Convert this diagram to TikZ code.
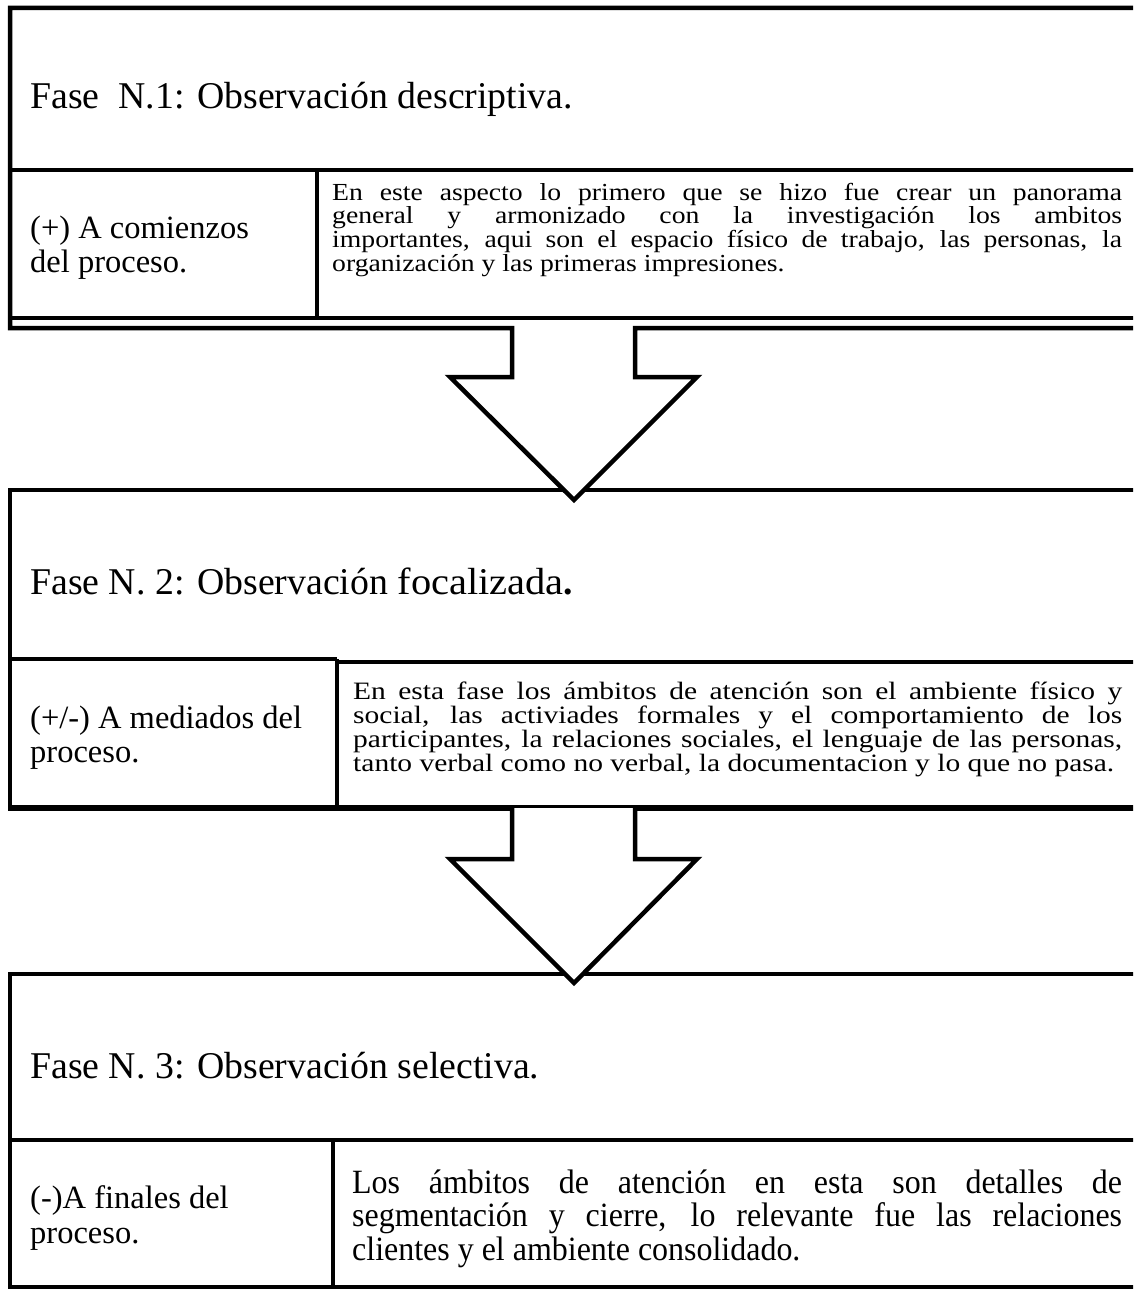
\documentclass[tikz,border=0pt]{standalone}
\usepackage{fontspec}
\setmainfont{Liberation Serif}
% a justified line, widened by the factor #1, filling #2 before widening
\newcommand{\sline}[3]{\scalebox{#1}[1]{\makebox[#2][s]{#3}}}
\newcommand{\wline}[2]{\scalebox{#1}[1]{#2}}
\begin{document}
\begin{tikzpicture}[x=1pt,y=-1pt,
  frame/.style={line width=4.5pt,line join=miter},
  thin frame/.style={line width=3.5pt},
  head/.style={anchor=base west,inner sep=0pt,font=\fontsize{37.8}{45}\selectfont},
  lefttxt/.style={anchor=base west,inner sep=0pt,font=\fontsize{32.5}{35}\selectfont},
  bodyA/.style={anchor=base west,inner sep=0pt,font=\fontsize{24.5}{24}\selectfont},
  bodyB/.style={anchor=base west,inner sep=0pt,font=\fontsize{25}{24}\selectfont},
  bodyC/.style={anchor=base west,inner sep=0pt,font=\fontsize{34}{33}\selectfont}]
\useasboundingbox (0,0) rectangle (1133,1290);
\clip (0,0) rectangle (1133,1290);
\fill[white] (0,0) rectangle (1133,1290);

% ---- phase 2 box ----
\draw[frame] (10,808) -- (10,490) -- (1140,490);
\draw[frame] (10,659) -- (337,659);
\draw[frame] (337,662) -- (1140,662);
\draw[thin frame] (337,659) -- (337,808);
\draw[line width=6pt] (8,808) -- (1140,808);

% ---- phase 3 box ----
\draw[frame] (10,1287) -- (10,974) -- (1140,974);
\draw[frame] (10,1140) -- (1140,1140);
\draw[thin frame] (333,1140) -- (333,1287);
\draw[frame] (8,1287) -- (1140,1287);

% ---- phase 1 box with the first block arrow ----
\coordinate (a1l) at (512,328);
\coordinate (a1r) at (635,328);
\coordinate (a1tip) at (574,500);
\fill[white] (a1l) -- (512,377) -- (450,377) -- (a1tip) -- (697,377) -- (635,377) -- (a1r) -- cycle;
\draw[frame] (1140,328) -- (a1r) -- (635,377) -- (697,377) -- (a1tip) -- (450,377) -- (512,377) -- (a1l) -- (10,328) -- (10,8) -- (1140,8);
\draw[frame] (10,170) -- (1140,170);
\draw[frame] (10,318) -- (1140,318);
\draw[thin frame] (317,170) -- (317,318);

% ---- second block arrow ----
\coordinate (a2l) at (512,808);
\coordinate (a2r) at (635,808);
\coordinate (a2tip) at (574,983);
\filldraw[frame,fill=white] (a2l) -- (512,859) -- (450,859) -- (a2tip) -- (697,859) -- (635,859) -- (a2r);

% ---- texts, phase 1 ----
\node[head] (h1) at (30,108) {Fase\ \ N.1: Observación descriptiva.};
\node[lefttxt] (l1a) at (30,238) {(+) A comienzos};
\node[lefttxt] (l1b) at (30,272) {del proceso.};
\node[bodyA] (r1a) at (332,200) {\sline{1.13}{699pt}{En este aspecto lo primero que se hizo fue crear un panorama}};
\node[bodyA] (r1b) at (332,223.7) {\sline{1.13}{699pt}{general y armonizado con la investigación los ambitos}};
\node[bodyA] (r1c) at (332,247.4) {\sline{1.13}{699pt}{importantes, aqui son el espacio físico de trabajo, las personas, la}};
\node[bodyA] (r1d) at (332,271) {\wline{1.13}{organización y las primeras impresiones.}};

% ---- texts, phase 2 ----
\node[head] (h2) at (30,594) {Fase N. 2: Observación \scalebox{1.07}[1]{focalizada}\textbf{.}};
\node[lefttxt] (l2a) at (30,728) {(+/-) A mediados del};
\node[lefttxt] (l2b) at (30,762) {proceso.};
\node[bodyB] (r2a) at (353,699.5) {\sline{1.18}{651.7pt}{En esta fase los ámbitos de atención son el ambiente físico y}};
\node[bodyB] (r2b) at (353,723.5) {\sline{1.18}{651.7pt}{social, las activiades formales y el comportamiento de los}};
\node[bodyB] (r2c) at (353,747.5) {\sline{1.18}{651.7pt}{participantes, la relaciones sociales, el lenguaje de las personas,}};
\node[bodyB] (r2d) at (353,771.5) {\wline{1.18}{tanto verbal como no verbal, la documentacion y lo que no pasa.}};

% ---- texts, phase 3 (set slightly condensed) ----
\node[head] (h3) at (30,1078) {Fase N. 3: Observación selectiva.};
\node[lefttxt] (l3a) at (30,1208) {(-)A finales del};
\node[lefttxt] (l3b) at (30,1243) {proceso.};
\node[bodyC] (r3a) at (352,1193) {\sline{0.94}{819pt}{Los ámbitos de atención en esta son detalles de}};
\node[bodyC] (r3b) at (352,1226) {\sline{0.94}{819pt}{segmentación y cierre, lo relevante fue las relaciones}};
\node[bodyC] (r3c) at (352,1260) {\wline{0.94}{clientes y el ambiente consolidado.}};
\end{tikzpicture}
\end{document}
